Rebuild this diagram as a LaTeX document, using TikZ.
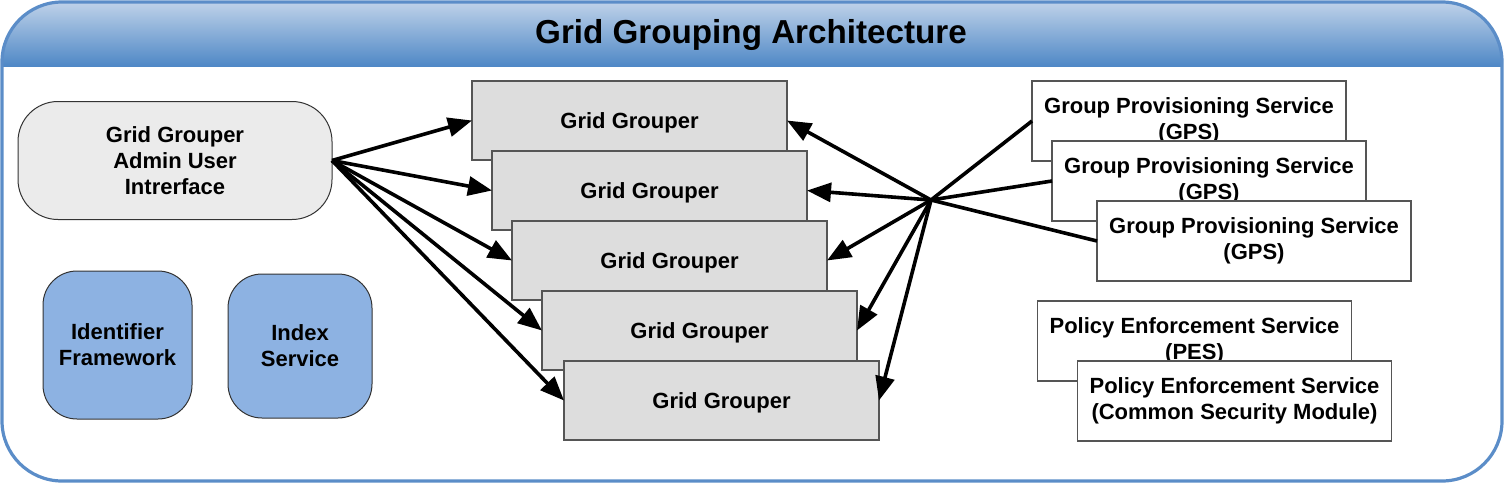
\documentclass[tikz,border=0pt]{standalone}
\usepackage{fontspec}
\setmainfont{Liberation Sans}
\usepackage{tikz}
\usetikzlibrary{arrows.meta}

\definecolor{framecol}{HTML}{5B8DC8}
\definecolor{headtop}{HTML}{C2D4EA}
\definecolor{headbot}{HTML}{4F88C6}
\definecolor{bluebox}{HTML}{8DB2E2}
\definecolor{lightbox}{HTML}{EBEBEB}
\definecolor{greybox}{HTML}{DDDDDD}
\definecolor{edgecol}{HTML}{555555}

\begin{document}
\begin{tikzpicture}[x=0.5pt,y=-0.5pt,
    every node/.style={outer sep=0pt, inner sep=0pt, align=center, font=\fontsize{11}{13}\selectfont\bfseries},
    ggbox/.style={draw=edgecol, line width=0.7pt, fill=greybox, minimum width=157.5pt, minimum height=39.5pt, text depth=0pt},
    svcbox/.style={draw=edgecol, line width=0.7pt, fill=white, minimum width=157pt, minimum height=40pt},
    uibox/.style={draw=black!80, line width=0.5pt, fill=lightbox, rounded corners=20pt, minimum width=157pt, minimum height=59pt},
    bluebx/.style={draw=black!80, line width=0.5pt, fill=bluebox, rounded corners=17pt},
    link/.style={line width=1.8pt, -{Triangle[length=12pt,width=9.5pt]}},
    feed/.style={line width=1.8pt}]
            \useasboundingbox (0,0) rectangle (1504,483);
            \begin{scope}
                \clip[rounded corners=30pt] (2,2) rectangle (1502,481);
                \fill[top color=headtop, bottom color=headbot] (0,0) rectangle (1504,66);
            \end{scope}
            \draw[framecol, line width=1.6pt, rounded corners=30pt] (2,2) rectangle (1502,481);
            \node[anchor=base, font=\fontsize{16.6}{20}\selectfont\bfseries] (title) at (751,43) {Grid Grouping Architecture};

            \node[uibox] (admin) at (175,160.5) {Grid Grouper\\Admin User\\Intrerface};
            \node[bluebx, minimum width=74.5pt, minimum height=74pt] (ident) at (117.5,345) {Identifier\\Framework};
            \node[bluebx, minimum width=72pt, minimum height=72pt] (index) at (300,346) {Index\\Service};

            \node[ggbox] (gg1) at (629.5,120.5) {Grid Grouper};
            \node[ggbox] (gg2) at (649.5,190.5) {Grid Grouper};
            \node[ggbox] (gg3) at (669.5,260.5) {Grid Grouper};
            \node[ggbox] (gg4) at (699.5,330.5) {Grid Grouper};
            \node[ggbox] (gg5) at (721.5,400.5) {Grid Grouper};

            \node[svcbox] (gps1) at (1189,121) {Group Provisioning Service\\(GPS)};
            \node[svcbox] (gps2) at (1209,181) {Group Provisioning Service\\(GPS)};
            \node[svcbox] (gps3) at (1254,241) {Group Provisioning Service\\(GPS)};
            \node[svcbox] (pes1) at (1194.5,341) {Policy Enforcement Service\\(PES)};
            \node[svcbox] (pes2) at (1234.5,401) {Policy Enforcement Service\\(Common Security Module)};

            \coordinate (hub) at (931,200);

            \foreach \g in {1,...,5}
                \draw[link] (admin.east) -- (gg\g.west);
            \foreach \s in {1,2,3}
                \draw[feed] (gps\s.west) -- (hub);
            \foreach \g in {1,...,5}
                \draw[link] (hub) -- (gg\g.east);
        \end{tikzpicture}
\end{document}
